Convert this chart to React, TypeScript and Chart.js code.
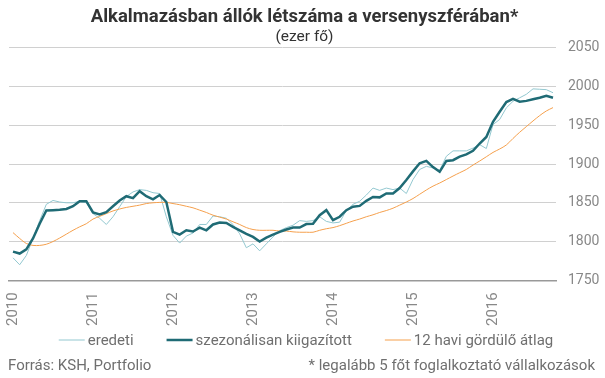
import { useEffect, useRef } from "react";
import { Chart, registerables } from "chart.js";

Chart.register(...registerables);

const years = ["2010", "2011", "2012", "2013", "2014", "2015", "2016"];
const yTicks = [1750, 1800, 1850, 1900, 1950, 2000, 2050];

// Jan 2010 .. Oct 2016, monthly
const eredeti = [
  1779, 1770, 1782, 1804, 1827, 1848, 1853, 1851, 1850, 1850, 1852, 1850,
  1836, 1830, 1822, 1832, 1845, 1858, 1864, 1867, 1866, 1863, 1862, 1832,
  1808, 1798, 1807, 1811, 1822, 1822, 1833, 1832, 1830, 1822, 1810, 1792,
  1797, 1788, 1797, 1806, 1814, 1818, 1821, 1827, 1826, 1827, 1832, 1826,
  1824, 1825, 1840, 1848, 1852, 1860, 1869, 1866, 1869, 1867, 1869, 1862,
  1880, 1893, 1897, 1895, 1892, 1910, 1917, 1917, 1917, 1920.5, 1925, 1920,
  1951, 1957.5, 1972.5, 1981, 1985.5, 1990, 1997, 1996.5, 1996, 1992,
];

const kiigazitott = [
  1787, 1784.5, 1790, 1804, 1823, 1840, 1840.5, 1841, 1842, 1845.5, 1852, 1852,
  1837.5, 1835, 1838, 1845.5, 1853, 1858.5, 1856, 1865, 1858.5, 1854.5, 1860, 1851,
  1812.5, 1809, 1814.5, 1813, 1818, 1814.5, 1822, 1824.5, 1824, 1819, 1814.5, 1810,
  1806, 1800, 1805, 1809, 1812.5, 1815.5, 1818, 1818, 1822.5, 1823, 1834, 1840.5,
  1827.5, 1832, 1840.5, 1845, 1846, 1852.5, 1857.5, 1857, 1862, 1862, 1869, 1879.5,
  1890.5, 1901, 1904, 1896, 1890, 1904, 1905, 1909.5, 1912.5, 1917, 1926.5, 1935,
  1954.5, 1967.5, 1980, 1984, 1980.5, 1981.5, 1983.5, 1985.5, 1988, 1985.5,
];

const gordulo = [
  1811.5, 1804, 1797.5, 1795, 1795, 1796.5, 1800, 1804.5, 1809.5, 1814.5, 1819, 1823,
  1829, 1832.5, 1836, 1839.5, 1842, 1844, 1845.5, 1847, 1849, 1850, 1850.5, 1850.5,
  1849, 1847.5, 1845.5, 1843.5, 1840.5, 1837.5, 1834, 1831.5, 1829, 1825.5, 1822, 1818,
  1815.5, 1814.5, 1814.5, 1814.5, 1813.5, 1813.5, 1812.5, 1812, 1812, 1812, 1814.5, 1816.5,
  1818, 1820.5, 1823.5, 1826.5, 1829, 1832, 1834.5, 1837.5, 1840, 1843, 1847, 1851,
  1855.5, 1861, 1866.5, 1871.5, 1875.5, 1880, 1884.5, 1888.8, 1893, 1898.7, 1903.9, 1909.4,
  1915, 1919.4, 1924.6, 1933, 1941, 1948.3, 1955.6, 1962.5, 1968.5, 1972.8,
];

const FONT = "Roboto, 'Noto Sans', sans-serif";
const LIGHT = "#93c8d0";
const DARK = "#1f6b75";
const ORANGE = "#f5a04d";
const TEXT_GREY = "#6f6f6f";

const toXY = (arr: number[]) => arr.map((v, i) => ({ x: i, y: v }));

// Legend drawn by a small inline plugin so the line sample sits right next to its label
const lineLegend = {
  id: "lineLegend",
  afterDraw(chart: any) {
    const ctx = chart.ctx as CanvasRenderingContext2D;
    const LINE = 26;
    const GAP = 3;
    const SPACING = 33;
    const y = 340;
    ctx.save();
    ctx.font = `15px ${FONT}`;
    const items = chart.data.datasets.map((ds: any) => ({
      label: ds.label as string,
      color: ds.borderColor as string,
      width: ds.borderWidth as number,
    }));
    const widths = items.map((it: any) => LINE + GAP + ctx.measureText(it.label).width);
    const total =
      widths.reduce((a: number, b: number) => a + b, 0) + SPACING * (items.length - 1);
    let x = 306 - total / 2;
    items.forEach((it: any, i: number) => {
      ctx.strokeStyle = it.color;
      ctx.lineWidth = it.width;
      ctx.beginPath();
      ctx.moveTo(x, y);
      ctx.lineTo(x + LINE, y);
      ctx.stroke();
      ctx.fillStyle = TEXT_GREY;
      ctx.textAlign = "left";
      ctx.textBaseline = "middle";
      ctx.fillText(it.label, x + LINE + GAP, y + 1);
      x += widths[i] + SPACING;
    });
    ctx.restore();
  },
};

export default function App() {
  const ref = useRef<HTMLCanvasElement>(null);

  useEffect(() => {
    if (!ref.current) return;
    const chart = new Chart(ref.current, {
      type: "line",
      data: {
        datasets: [
          {
            label: "eredeti",
            data: toXY(eredeti),
            borderColor: LIGHT,
            backgroundColor: LIGHT,
            borderWidth: 1,
            pointRadius: 0,
            tension: 0,
            order: 3,
          },
          {
            label: "szezonálisan kiigazított",
            data: toXY(kiigazitott),
            borderColor: DARK,
            backgroundColor: DARK,
            borderWidth: 2.5,
            pointRadius: 0,
            tension: 0,
            order: 1,
          },
          {
            label: "12 havi gördülő átlag",
            data: toXY(gordulo),
            borderColor: ORANGE,
            backgroundColor: ORANGE,
            borderWidth: 1,
            pointRadius: 0,
            tension: 0.3,
            order: 2,
          },
        ],
      },
      options: {
        responsive: false,
        animation: false,
        devicePixelRatio: 1,
        layout: { padding: { left: 9, right: 5, top: 0, bottom: 40 } },
        plugins: {
          tooltip: { enabled: false },
          legend: { display: false },
          title: {
            display: true,
            text: "Alkalmazásban állók létszáma a versenyszférában*",
            color: "#333",
            font: { family: FONT, size: 18.5, weight: "bold" },
            padding: { top: 6, bottom: 0 },
          },
          subtitle: {
            display: true,
            text: "(ezer fő)",
            color: "#333",
            font: { family: FONT, size: 15.5 },
            padding: { top: 0, bottom: 1 },
          },
        },
        scales: {
          x: {
            type: "linear",
            min: -0.6,
            max: 81.45,
            grid: { display: false, drawTicks: false },
            border: { display: true, color: "#999", width: 1.5 },
            ticks: {
              stepSize: 12,
              includeBounds: false,
              autoSkip: false,
              minRotation: 90,
              maxRotation: 90,
              padding: 12,
              color: "#888",
              font: { family: FONT, size: 15 },
              callback: (v: any) => {
                const n = Number(v);
                return n % 12 === 0 ? years[n / 12] : "";
              },
            },
          },
          y: {
            position: "right",
            min: yTicks[0],
            max: yTicks[yTicks.length - 1],
            afterFit: (scale: any) => {
              scale.width = 44;
            },
            grid: { color: "#d0d0d0", lineWidth: 1, drawTicks: false },
            border: { display: false },
            ticks: {
              stepSize: 50,
              padding: 12,
              color: "#888",
              font: { family: FONT, size: 14 },
              callback: (v: any) => String(v),
            },
          },
        },
      },
      plugins: [lineLegend],
    });
    return () => chart.destroy();
  }, []);

  const footStyle: any = {
    position: "absolute",
    top: 356,
    fontFamily: FONT,
    fontSize: 15,
    lineHeight: "18px",
    color: TEXT_GREY,
    whiteSpace: "nowrap",
  };

  return (
    <div
      style={{
        position: "fixed",
        left: 0,
        top: 0,
        width: 605,
        height: 378,
        background: "#fff",
        overflow: "hidden",
      }}
    >
      <canvas ref={ref} width={605} height={378} style={{ display: "block" }} />
      <div style={{ ...footStyle, left: 8 }}>Forrás: KSH, Portfolio</div>
      <div style={{ ...footStyle, right: 10 }}>
        * legalább 5 főt foglalkoztató vállalkozások
      </div>
    </div>
  );
}
